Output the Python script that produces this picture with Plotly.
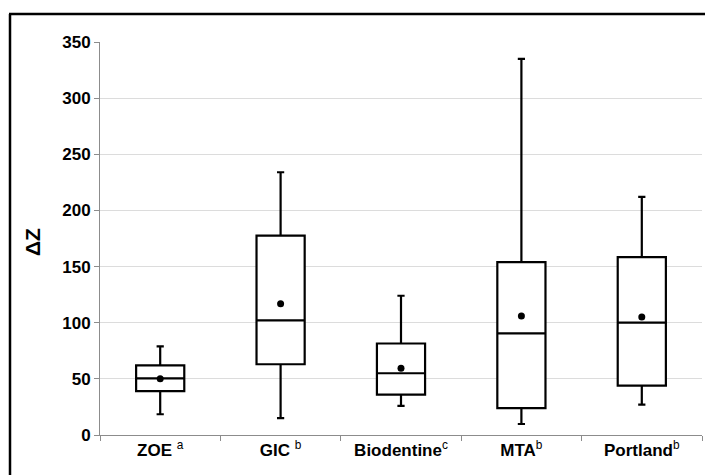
import plotly.graph_objects as go

SUP = '<sup><span style="font-weight:normal;fill:#000000;color:#000000">{}</span></sup>'
categories = ["ZOE " + SUP.format("a"), "GIC " + SUP.format("b"), "Biodentine" + SUP.format("c"),
              "MTA" + SUP.format("b"), "Portland" + SUP.format("b")]
lower_whisker = [18.5, 15, 26, 9.8, 27]
q1_values = [39, 63, 36, 24, 44]
median_values = [50.5, 102, 55, 90.5, 100]
q3_values = [62, 177.5, 81.5, 154, 158.5]
upper_whisker = [79, 234, 124, 335, 212]
mean_values = [50, 117, 59.5, 106, 105]
y_ticks = [0, 50, 100, 150, 200, 250, 300, 350]

FONT = "Liberation Sans, Arial, sans-serif"

fig = go.Figure()
fig.add_trace(go.Box(
    x=categories,
    q1=q1_values,
    median=median_values,
    q3=q3_values,
    lowerfence=lower_whisker,
    upperfence=upper_whisker,
    fillcolor="white",
    line=dict(color="black", width=2.2),
    width=0.4,
    whiskerwidth=0.15,
    boxpoints=False,
    showlegend=False,
    hoverinfo="skip",
))
fig.add_trace(go.Scatter(
    x=categories,
    y=mean_values,
    mode="markers",
    marker=dict(color="black", size=7),
    showlegend=False,
    hoverinfo="skip",
))

W, H = 705, 475
L, T, B, R = 100, 42, 40, 3
pw, ph = W - L - R, H - T - B

def px_x(p):
    return (p - L) / pw

def px_y(p):
    return (H - B - p) / ph

border = dict(color="black", width=2.5)

fig.update_layout(
    width=W, height=H,
    margin=dict(l=L, r=R, t=T, b=B),
    paper_bgcolor="white",
    plot_bgcolor="white",
    font=dict(family=FONT, color="black", size=17),
    xaxis=dict(
        type="category",
        categoryorder="array",
        categoryarray=categories,
        showline=True, linecolor="#8c8c8c", linewidth=1,
        ticks="outside", tickson="boundaries", ticklen=5, tickcolor="#8c8c8c",
        tickfont=dict(family=FONT, size=17, color="black", weight="bold"),
        showgrid=False, zeroline=False,
        range=[-0.5, 4.5],
    ),
    yaxis=dict(
        range=[0, 350],
        tickvals=y_ticks,
        showline=True, linecolor="#8c8c8c", linewidth=1,
        ticks="outside", ticklen=5, tickcolor="#8c8c8c",
        tickfont=dict(family=FONT, size=17, color="black", weight="bold"),
        showgrid=True, gridcolor="#dcdcdc", gridwidth=1,
        zeroline=False,
    ),
    annotations=[dict(
        text="<b>ΔZ</b>", xref="paper", yref="paper",
        x=px_x(32), y=px_y(242), textangle=-90, showarrow=False,
        font=dict(family=FONT, size=21, color="black"),
        xanchor="center", yanchor="middle",
    )],
    shapes=[
        dict(type="line", xref="paper", yref="paper",
             x0=px_x(10), x1=px_x(10), y0=px_y(480), y1=px_y(14),
             line=border, layer="above"),
        dict(type="line", xref="paper", yref="paper",
             x0=px_x(9), x1=px_x(710), y0=px_y(14), y1=px_y(14),
             line=border, layer="above"),
    ],
)

fig.write_html(
    "out.html",
    config={"displayModeBar": False},
    post_script="document.body.style.margin='0';document.body.style.overflow='hidden';document.documentElement.style.overflow='hidden';",
)
